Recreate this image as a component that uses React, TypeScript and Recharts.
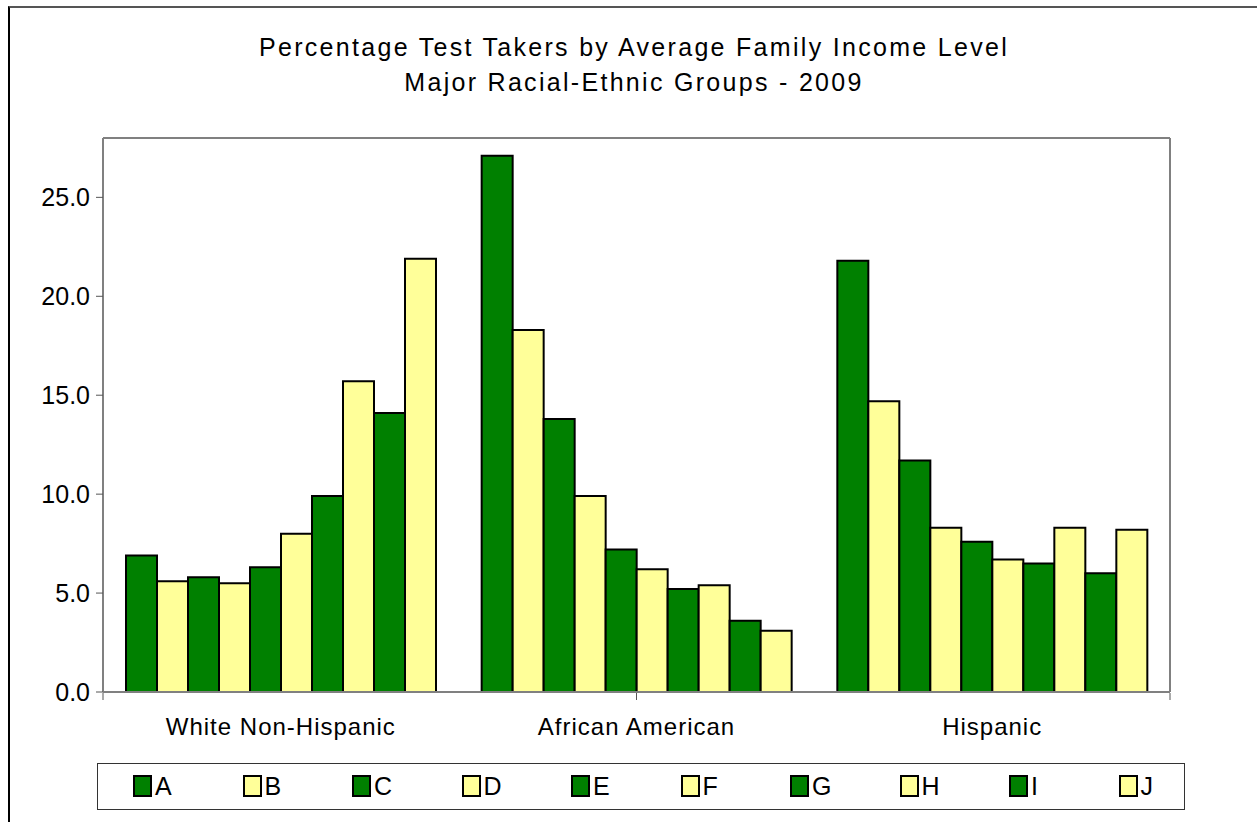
import { BarChart, Bar, XAxis, YAxis } from 'recharts';

const groups = ['White Non-Hispanic', 'African American', 'Hispanic'];
const seriesKeys = ['A', 'B', 'C', 'D', 'E', 'F', 'G', 'H', 'I', 'J'];
const whiteValues = [6.9, 5.6, 5.8, 5.5, 6.3, 8.0, 9.9, 15.7, 14.1, 21.9];
const africanValues = [27.1, 18.3, 13.8, 9.9, 7.2, 6.2, 5.2, 5.4, 3.6, 3.1];
const hispanicValues = [21.8, 14.7, 11.7, 8.3, 7.6, 6.7, 6.5, 8.3, 6.0, 8.2];
const yTicks = [0, 5, 10, 15, 20, 25];
const edgeTicks = [0, 1, 2, 3];

const GREEN = '#008000';
const YELLOW = '#FFFF99';
const FONT = 'Arial, "Liberation Sans", sans-serif';

const rows = [whiteValues, africanValues, hispanicValues].map((vals, gi) => {
  const row: Record<string, any> = { group: groups[gi] };
  seriesKeys.forEach((k, i) => (row[k] = vals[i]));
  return row;
});

const colorFor = (i: number) => (i % 2 === 0 ? GREEN : YELLOW);

export default function App() {
  return (
    <div style={{ position: 'absolute', left: 0, top: 0, width: 1257, height: 822, background: '#fff', fontFamily: FONT }}>
      {/* outer frame */}
      <div
        style={{
          position: 'absolute',
          left: 8,
          top: 6,
          width: 1260,
          height: 830,
          borderTop: '2px solid #555',
          borderLeft: '2px solid #000',
        }}
      />

      {/* title */}
      <div
        style={{
          position: 'absolute',
          left: 0,
          width: 1268,
          top: 30,
          textAlign: 'center',
          fontSize: 25,
          lineHeight: '35px',
          letterSpacing: 2.3,
          color: '#000',
        }}
      >
        Percentage Test Takers by Average Family Income Level
        <br />
        Major Racial-Ethnic Groups - 2009
      </div>

      <div style={{ position: 'absolute', left: 0, top: 0 }}>
        <BarChart
          width={1257}
          height={822}
          data={rows}
          margin={{ top: 137, right: 86, left: 43, bottom: 128 }}
          barCategoryGap={23}
          barGap={0}
        >
          <XAxis
            dataKey="group"
            axisLine={{ stroke: '#808080', strokeWidth: 2 }}
            tickLine={false}
            tickSize={0}
            tickMargin={26}
            height={1}
            tick={{ fill: '#000', fontSize: 24, letterSpacing: 1, fontFamily: FONT }}
          />
          {/* tick marks on the category boundaries */}
          <XAxis
            xAxisId="edges"
            type="number"
            domain={[0, 3]}
            ticks={edgeTicks}
            allowDataOverflow
            tickFormatter={() => ''}
            tick={{ fill: 'none', fontSize: 1 }}
            tickSize={7}
            axisLine={false}
            tickLine={{ stroke: '#555', strokeWidth: 1 }}
            height={1}
          />
          <XAxis
            xAxisId="top"
            orientation="top"
            dataKey="group"
            tick={false}
            tickLine={false}
            axisLine={{ stroke: '#808080', strokeWidth: 2 }}
            height={1}
          />
          <YAxis
            domain={[0, 28]}
            ticks={yTicks}
            allowDataOverflow
            width={60}
            tickSize={7}
            tickMargin={6}
            axisLine={{ stroke: '#808080', strokeWidth: 2 }}
            tickLine={{ stroke: '#555', strokeWidth: 1 }}
            tickFormatter={(v) => v.toFixed(1)}
            tick={{ fill: '#000', fontSize: 25, fontFamily: FONT }}
          />
          <YAxis
            yAxisId="right"
            orientation="right"
            domain={[0, 28]}
            tick={false}
            tickLine={false}
            axisLine={{ stroke: '#808080', strokeWidth: 2 }}
            width={1}
          />
          {seriesKeys.map((k, i) => (
            <Bar
              key={k}
              dataKey={k}
              fill={colorFor(i)}
              stroke="#000"
              strokeWidth={2}
              isAnimationActive={false}
            />
          ))}
        </BarChart>
      </div>

      {/* legend */}
      <div
        style={{
          position: 'absolute',
          left: 97,
          top: 763,
          width: 1088,
          height: 47,
          border: '1.5px solid #333',
          boxSizing: 'border-box',
        }}
      >
        {seriesKeys.map((k, i) => (
          <div
            key={k}
            style={{
              position: 'absolute',
              left: 35 + i * 109.5,
              top: 10,
              display: 'flex',
              alignItems: 'center',
              fontSize: 25,
              lineHeight: '24px',
            }}
          >
            <span
              style={{
                display: 'inline-block',
                width: 19,
                height: 22,
                background: colorFor(i),
                border: '2px solid #000',
                boxSizing: 'border-box',
                marginRight: 3,
              }}
            />
            {k}
          </div>
        ))}
      </div>
    </div>
  );
}
